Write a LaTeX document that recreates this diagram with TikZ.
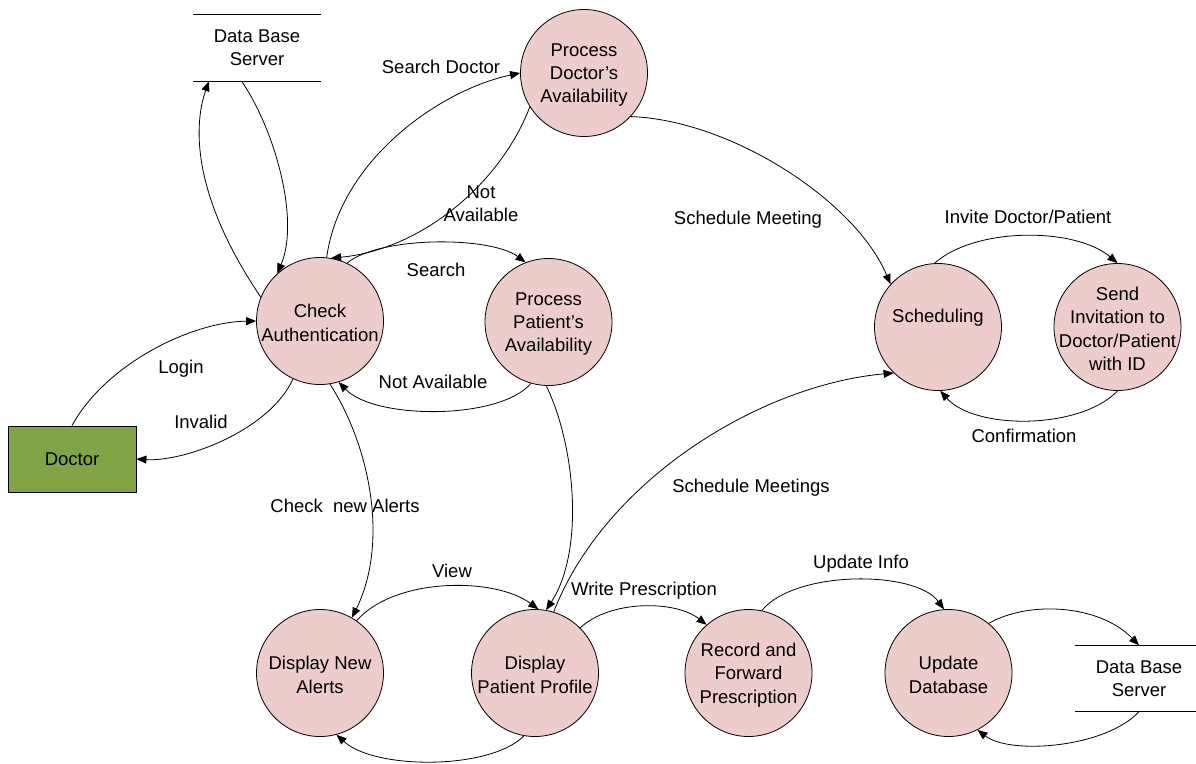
\documentclass[tikz,border=0pt]{standalone}
\usepackage{fontspec}
\setmainfont{Liberation Sans}
\usetikzlibrary{arrows.meta,calc}
\definecolor{procfill}{RGB}{236,205,204}
\definecolor{actorfill}{RGB}{128,164,70}
\newcommand{\dfdfont}{\fontsize{18.5}{23.3}\selectfont}
\begin{document}
\begin{tikzpicture}[x=1pt,y=-1pt,
  proc/.style={circle, draw=black, line width=0.8pt, fill=procfill,
    minimum size=127pt, inner sep=0pt},
  ptext/.style={font=\dfdfont, align=center, inner sep=0pt, yshift=-2pt},
  actor/.style={rectangle, draw=black, line width=0.8pt, fill=actorfill,
    minimum width=128pt, minimum height=66pt, font=\dfdfont, inner sep=0pt},
  store/.style={rectangle, minimum width=128pt, minimum height=66pt,
    font=\dfdfont, align=center, inner sep=0pt},
  storeline/.style={line width=0.8pt},
  lbl/.style={font=\dfdfont, align=center, inner sep=0pt},
  flow/.style={line width=0.8pt, -{Triangle[length=10pt,width=8pt]}}
]
\useasboundingbox (0,0) rectangle (1196,763);
\clip (0,0) rectangle (1196,763);

% external entity and data stores
\node[actor] (doctor) at (72,459) {Doctor};
\node[store] (db1) at (257,48) {Data Base\\Server};
\draw[storeline] (db1.north west) -- (db1.north east);
\draw[storeline] (db1.south west) -- (db1.south east);
\node[store] (db2) at (1139,678.5) {Data Base\\Server};
\draw[storeline] (db2.north west) -- (db2.north east);
\draw[storeline] (db2.south west) -- (db2.south east);
\coordinate (db1in) at ($(db1.south west)!0.125!(db1.south east)$);
\coordinate (db1out) at ($(db1.south west)!0.38!(db1.south east)$);

% processes
\node[proc, label={[ptext]center:{Check\\Authentication}}] (cauth) at (320,321) {};
\node[proc, label={[ptext]center:{Process\\Patient's\\Availability}}] (ppat) at (548.5,322) {};
\node[proc, label={[ptext]center:{Process\\Doctor’s\\Availability}}] (pdoc) at (584,73) {};
\node[proc, label={[ptext, yshift=11pt]center:{Scheduling}}] (sched) at (938,327) {};
\node[proc, label={[ptext]center:{Send\\Invitation to\\Doctor/Patient\\with ID}}] (send) at (1117.5,327) {};
\node[proc, label={[ptext]center:{Display New\\Alerts}}] (alerts) at (320,673) {};
\node[proc, label={[ptext]center:{Display\\Patient Profile}}] (profile) at (535,673) {};
\node[proc, label={[ptext]center:{Record and\\Forward\\Prescription}}] (record) at (748.5,673) {};
\node[proc, label={[ptext]center:{Update\\Database}}] (update) at (948.5,673) {};

% data flows
\draw[flow] (cauth.158) .. controls (195,200) and (192,130) .. (db1in);
\draw[flow] (db1out) .. controls (275,130) and (300,220) .. (cauth.132);
\draw[flow] (cauth.84) .. controls (340,160) and (440,90) .. (pdoc.180);
\draw[flow] (pdoc.212) .. controls (500,185) and (420,250) .. (cauth.80);
\draw[flow] (cauth.65) .. controls (380,236) and (490,236) .. (ppat.111);
\draw[flow] (ppat.-106) .. controls (500,420) and (375,420) .. (cauth.-73);
\draw[flow] (doctor.north) .. controls (105,365) and (190,322) .. (cauth.180);
\draw[flow] (cauth.-115) .. controls (270,430) and (185,462) .. (doctor.east);
\draw[flow] (cauth.-81) .. controls (372,450) and (388,545) .. (alerts.60);
\draw[flow] (alerts.55) .. controls (395,577) and (495,577) .. (profile.87);
\draw[flow] (profile.-100) .. controls (490,770) and (375,770) .. (alerts.-75);
\draw[flow] (ppat.-92) .. controls (575,445) and (585,550) .. (profile.80);
\draw[flow] (profile.73) .. controls (605,480) and (760,385) .. (sched.226);
\draw[flow] (pdoc.-43) .. controls (730,120) and (855,200) .. (sched.138);
\draw[flow] (sched.93) .. controls (975,227) and (1075,227) .. (send.90);
\draw[flow] (send.-90) .. controls (1080,430) and (975,430) .. (sched.-88);
\draw[flow] (profile.45) .. controls (610,600) and (675,600) .. (record.131);
\draw[flow] (record.78) .. controls (795,570) and (915,570) .. (update.94);
\draw[flow] (update.51) .. controls (1030,600) and (1100,605) .. (db2.north);
\draw[flow] (db2.south) .. controls (1105,748) and (1010,755) .. (update.-63);

% flow labels
\node[lbl] (lsearchdoc) at (441,67) {Search Doctor};
\node[lbl] (lnotavail1) at (481,204) {Not\\Available};
\node[lbl] (lschedmeet) at (748,220) {Schedule Meeting};
\node[lbl] (linvite) at (1028,217) {Invite Doctor/Patient};
\node[lbl] (lsearch) at (436,270) {Search};
\node[lbl] (lnotavail2) at (433,382) {Not Available};
\node[lbl] (llogin) at (181,369) {Login};
\node[lbl] (linvalid) at (201,422) {Invalid};
\node[lbl] (lconfirm) at (1024,436) {Confirmation};
\node[lbl] (lschedmeets) at (751,488) {Schedule Meetings};
\node[lbl] (lalerts) at (345,506) {Check\ \ new Alerts};
\node[lbl] (lview) at (452,571) {View};
\node[lbl] (lwrite) at (644,591) {Write Prescription};
\node[lbl] (lupdate) at (861,564) {Update Info};
\end{tikzpicture}
\end{document}
